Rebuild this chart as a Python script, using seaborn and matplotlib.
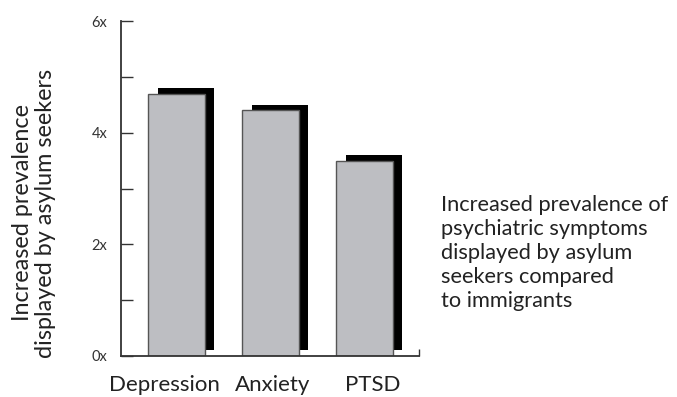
import numpy as np
import pandas as pd
import seaborn as sns
import matplotlib
matplotlib.use("Agg")
import matplotlib.pyplot as plt
from matplotlib.ticker import FixedLocator, FixedFormatter
from matplotlib.transforms import ScaledTranslation

# Data
categories = ["Depression", "Anxiety", "PTSD"]
prevalence = [4.7, 4.4, 3.5]
y_ticks = [0, 1, 2, 3, 4, 5, 6]
y_tick_labels = ["0x", "", "2x", "", "4x", "", "6x"]

ylabel_text = "Increased prevalence\ndisplayed by asylum seekers"
note_text = ("Increased prevalence of\npsychiatric symptoms\ndisplayed by asylum\n"
             "seekers compared\nto immigrants")

sns.set_theme(style="white")
plt.rcParams["font.family"] = ["Lato", "DejaVu Sans"]

text_color = "#222222"
axis_color = "#333333"

df = pd.DataFrame({"category": categories, "prevalence": prevalence})

fig = plt.figure(figsize=(6.77, 3.97), dpi=100)
ax = fig.add_axes([0.1787, 0.1033, 0.4402, 0.8437])

# Drop shadow behind each bar, offset up and to the right
shadow_dx, shadow_dy = 0.1, 0.1
pos = np.arange(len(categories))
ax.bar(pos + shadow_dx, prevalence, width=0.6, bottom=shadow_dy,
       color="black", edgecolor="none", zorder=1)

# Main grey bars
sns.barplot(data=df, x="category", y="prevalence", ax=ax, width=0.6,
            color="#bdbec2", edgecolor="#555555", linewidth=1.0,
            saturation=1, zorder=2)
for p in ax.patches[len(categories):]:
    p.set_zorder(2)

ax.set_xlim(-0.59, 2.58)
ax.set_ylim(0, 6)

sns.despine(ax=ax, top=True, right=True)
for side in ("left", "bottom"):
    ax.spines[side].set_color(axis_color)
    ax.spines[side].set_linewidth(1.3)

ax.yaxis.set_major_locator(FixedLocator(y_ticks))
ax.yaxis.set_major_formatter(FixedFormatter(y_tick_labels))
ax.tick_params(axis="y", direction="in", length=8.6, width=1.0,
               color=axis_color, pad=10, labelsize=10.5, labelcolor="#333333",
               left=True)
ax.tick_params(axis="x", which="major", length=0, pad=14, labelsize=16,
               labelcolor=text_color)
# Small end tick on the right of the baseline
ax.set_xticks([2.58], minor=True)
ax.tick_params(axis="x", which="minor", direction="in", length=5, width=1.0,
               color=axis_color, bottom=True)

# Nudge category labels so long names keep clear of each other
label_shift_px = [-12, 2, 8]
for lbl, dx in zip(ax.get_xticklabels(), label_shift_px):
    lbl.set_transform(lbl.get_transform() +
                      ScaledTranslation(dx / 100, 0, fig.dpi_scale_trans))

ax.set_xlabel("")
ax.set_ylabel("")

fig.text(0.050, 0.4635, ylabel_text, rotation=90, ha="center", va="center",
         multialignment="center", fontsize=16.8, color=text_color,
         linespacing=1.12)

fig.text(0.651, 0.362, note_text, ha="left", va="center", fontsize=15.7,
         color=text_color, linespacing=1.25)

fig.savefig("out.png", dpi=100, facecolor="white")
